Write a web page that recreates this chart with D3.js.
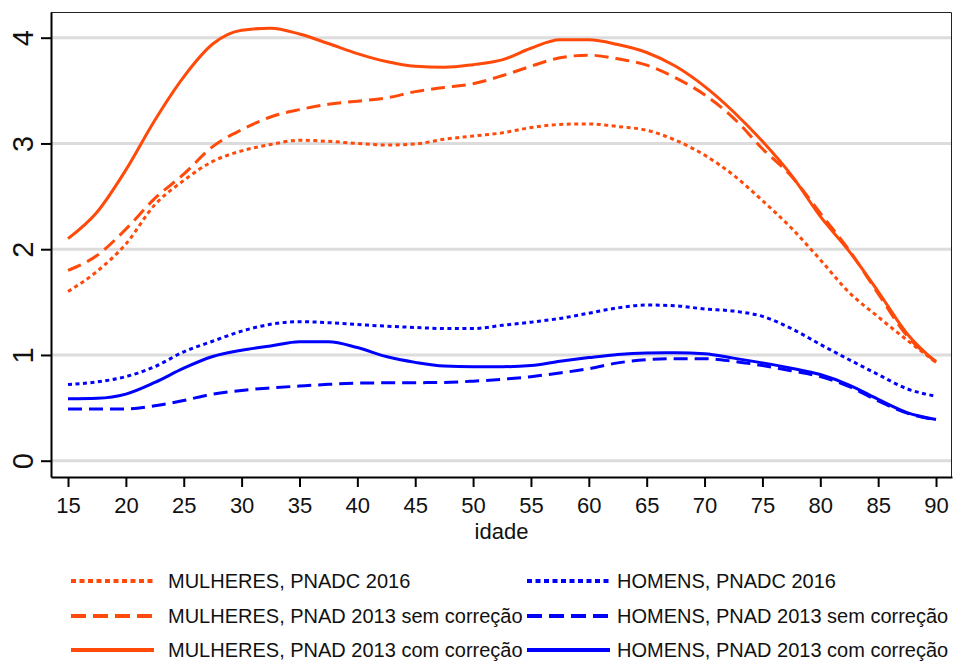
<!DOCTYPE html>
<html>
<head>
<meta charset="utf-8">
<script src="https://cdn.jsdelivr.net/npm/d3@7"></script>
<style>
  body { margin: 0; background: #fff; }
  text { font-family: "Liberation Sans", Arial, sans-serif; fill: #111; }
</style>
</head>
<body>
<div id="chart"></div>
<script>
// ages (x) shared by every series
const ages = [15, 17.5, 20, 22.5, 25, 27.5, 30, 32.5, 35, 37.5, 40, 42.5, 45, 47.5, 50,
  52.5, 55, 57.5, 60, 62.5, 65, 67.5, 70, 72.5, 75, 77.5, 80, 82.5, 85, 87.5, 90];

const mulheresPnadc2016 = [1.60, 1.79, 2.05, 2.42, 2.65, 2.83, 2.93, 2.99, 3.03, 3.02, 3.00, 2.985, 2.995, 3.04, 3.07,
  3.10, 3.15, 3.18, 3.185, 3.16, 3.125, 3.03, 2.89, 2.70, 2.46, 2.20, 1.90, 1.59, 1.36, 1.14, 0.93];
const mulheresSemCorrecao = [1.80, 1.94, 2.19, 2.48, 2.71, 2.97, 3.13, 3.25, 3.32, 3.37, 3.40, 3.43, 3.49, 3.53, 3.565,
  3.64, 3.73, 3.81, 3.835, 3.80, 3.74, 3.62, 3.46, 3.24, 2.95, 2.69, 2.34, 1.99, 1.58, 1.18, 0.94];
const mulheresComCorrecao = [2.10, 2.35, 2.75, 3.22, 3.63, 3.94, 4.07, 4.09, 4.035, 3.945, 3.85, 3.775, 3.73, 3.72, 3.745,
  3.79, 3.90, 3.98, 3.98, 3.935, 3.86, 3.73, 3.54, 3.30, 3.02, 2.70, 2.31, 1.98, 1.60, 1.20, 0.93];
const homensPnadc2016 = [0.72, 0.745, 0.795, 0.89, 1.03, 1.13, 1.225, 1.29, 1.315, 1.305, 1.288, 1.272, 1.26, 1.25, 1.25,
  1.28, 1.31, 1.345, 1.395, 1.445, 1.472, 1.465, 1.435, 1.415, 1.365, 1.25, 1.10, 0.955, 0.815, 0.68, 0.61];
const homensSemCorrecao = [0.49, 0.49, 0.49, 0.52, 0.57, 0.63, 0.665, 0.688, 0.706, 0.722, 0.733, 0.737, 0.738, 0.74, 0.752,
  0.77, 0.795, 0.83, 0.87, 0.925, 0.955, 0.965, 0.965, 0.94, 0.90, 0.85, 0.795, 0.70, 0.565, 0.45, 0.385];
const homensComCorrecao = [0.585, 0.59, 0.63, 0.74, 0.875, 0.985, 1.045, 1.085, 1.125, 1.125, 1.07, 0.985, 0.93, 0.895, 0.889,
  0.889, 0.90, 0.94, 0.975, 1.005, 1.018, 1.02, 1.012, 0.97, 0.925, 0.875, 0.815, 0.715, 0.58, 0.455, 0.39];

const xTicks = [15, 20, 25, 30, 35, 40, 45, 50, 55, 60, 65, 70, 75, 80, 85, 90];
const yTicks = [0, 1, 2, 3, 4];

const seriesNames = [
  'MULHERES, PNADC 2016', 'MULHERES, PNAD 2013 sem correção', 'MULHERES, PNAD 2013 com correção',
  'HOMENS, PNADC 2016', 'HOMENS, PNAD 2013 sem correção', 'HOMENS, PNAD 2013 com correção'
];
const seriesValues = [mulheresPnadc2016, mulheresSemCorrecao, mulheresComCorrecao,
  homensPnadc2016, homensSemCorrecao, homensComCorrecao];

const orange = '#ff4a0a', blue = '#0000ff';
const colors = [orange, orange, orange, blue, blue, blue];
const dashes = ['4,3.5', '14,7', null, '4,3.5', '14,7', null];

const W = 953, H = 662;
const margin = {top: 12, right: 1, bottom: 185, left: 51};
const width = W - margin.left - margin.right;
const height = H - margin.top - margin.bottom;

const svg = d3.select('#chart').append('svg')
  .attr('width', W)
  .attr('height', H);

const xScale = d3.scaleLinear()
  .domain([13.53, 91.38])
  .range([0, width]);

const yScale = d3.scaleLinear()
  .domain([-0.154, 4.243])
  .range([height, 0]);

const g = svg.append('g')
  .attr('transform', `translate(${margin.left}, ${margin.top})`);

// grid
g.selectAll('.grid')
  .data(yTicks)
  .join('line')
    .attr('x1', 0)
    .attr('x2', width)
    .attr('y1', d => yScale(d))
    .attr('y2', d => yScale(d))
    .attr('stroke', '#dcdcdc')
    .attr('stroke-width', 3);

// frame (top and right)
g.append('path')
  .attr('d', `M0,0.5H${width - 0.5}V${height}`)
  .attr('fill', 'none')
  .attr('stroke', '#222')
  .attr('stroke-width', 1);

const line = d3.line()
  .x((d, i) => xScale(ages[i]))
  .y(d => yScale(d))
  .curve(d3.curveMonotoneX);

g.selectAll('.series')
  .data(seriesValues)
  .join('path')
    .attr('d', d => line(d))
    .attr('fill', 'none')
    .attr('stroke', (d, i) => colors[i])
    .attr('stroke-width', 3)
    .attr('stroke-dasharray', (d, i) => dashes[i]);

// axes
const xAxis = g.append('g')
  .attr('transform', `translate(0, ${height})`)
  .call(d3.axisBottom(xScale).tickValues(xTicks).tickSize(10).tickPadding(10).tickSizeOuter(0));
xAxis.select('.domain').attr('stroke', '#000').attr('stroke-width', 2);
xAxis.selectAll('.tick line').attr('stroke', '#000').attr('stroke-width', 2);
xAxis.selectAll('.tick text')
  .attr('font-size', 22)
  .attr('fill', '#111')
  .style('font-family', '"Liberation Sans", Arial, sans-serif');

const yAxis = g.append('g')
  .call(d3.axisLeft(yScale).tickValues(yTicks).tickFormat(d3.format('d')).tickSize(10).tickSizeOuter(0));
yAxis.select('.domain').attr('stroke', '#000').attr('stroke-width', 2);
yAxis.selectAll('.tick line').attr('stroke', '#000').attr('stroke-width', 2);
yAxis.selectAll('.tick text')
  .attr('font-size', 29)
  .attr('fill', '#111')
  .style('font-family', '"Liberation Sans", Arial, sans-serif')
  .attr('x', null)
  .attr('dy', null)
  .attr('text-anchor', 'middle')
  .attr('transform', 'translate(-28.5, 0) rotate(-90)')
  .attr('y', 0)
  .attr('dominant-baseline', 'central');

svg.append('text')
  .attr('x', margin.left + width / 2)
  .attr('y', 539)
  .attr('text-anchor', 'middle')
  .attr('font-size', 22)
  .text('idade');

// legend
const legendX = [71, 527];
const textX = [168, 617];
const legendY = [581, 616, 650];
const legend = svg.append('g');
seriesNames.forEach((name, i) => {
  const col = Math.floor(i / 3), row = i % 3;
  legend.append('line')
    .attr('x1', legendX[col])
    .attr('x2', legendX[col] + 83)
    .attr('y1', legendY[row])
    .attr('y2', legendY[row])
    .attr('stroke', colors[i])
    .attr('stroke-width', 4)
    .attr('stroke-dasharray', dashes[i] ? (i % 3 === 0 ? '5,3.5' : '15,7') : null);
  legend.append('text')
    .attr('x', textX[col])
    .attr('y', legendY[row] + 7)
    .attr('font-size', 20)
    .text(name);
});
</script>
</body>
</html>
